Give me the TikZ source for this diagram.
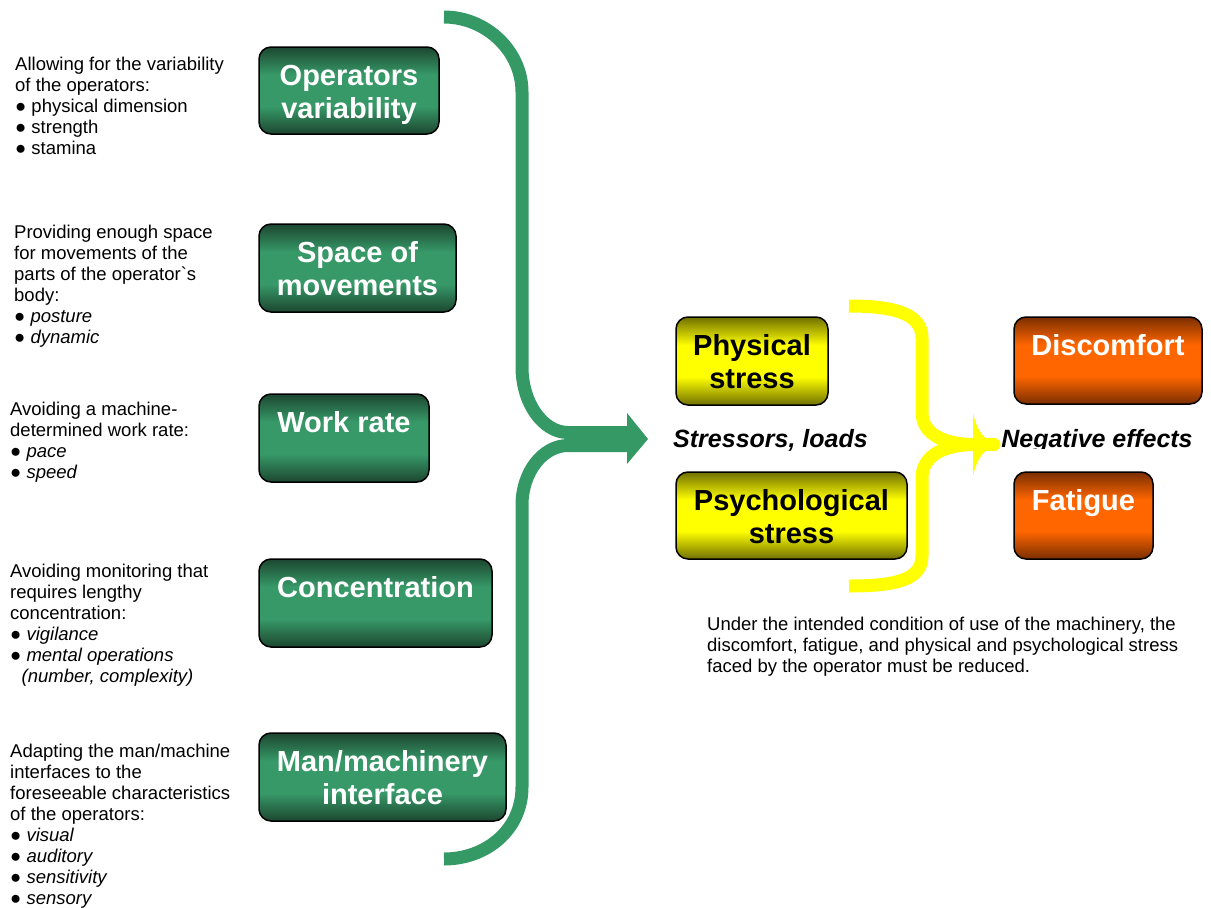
\documentclass[tikz,border=0pt]{standalone}
\usepackage{fontspec}
\setmainfont{Liberation Sans}
\newfontfamily\rawf{Liberation Sans}
\definecolor{gbr}{RGB}{53,153,102}
\definecolor{gl}{RGB}{55,153,104}
\definecolor{gd}{RGB}{28,70,48}
\definecolor{yl}{RGB}{255,255,0}
\definecolor{yd}{RGB}{112,112,0}
\definecolor{ol}{RGB}{255,102,0}
\definecolor{od}{RGB}{122,46,0}
\pgfdeclareverticalshading{gshade}{100bp}{color(0bp)=(gd); color(25bp)=(gd); color(41bp)=(gl); color(59bp)=(gl); color(75bp)=(gd); color(100bp)=(gd)}
\pgfdeclareverticalshading{yshade}{100bp}{color(0bp)=(yd); color(25bp)=(yd); color(41bp)=(yl); color(59bp)=(yl); color(75bp)=(yd); color(100bp)=(yd)}
\pgfdeclareverticalshading{oshade}{100bp}{color(0bp)=(od); color(25bp)=(od); color(41bp)=(ol); color(59bp)=(ol); color(75bp)=(od); color(100bp)=(od)}
\begin{document}
\begin{tikzpicture}[x=1pt,y=-1pt,
  box/.style={draw=black, line width=1.5pt, rounded corners=12pt, inner sep=0pt},
  gbox/.style={box, shading=gshade},
  ybox/.style={box, shading=yshade},
  obox/.style={box, shading=oshade},
  btxt/.style={font=\fontsize{29}{33}\selectfont\bfseries, align=center, inner sep=0pt},
  wtxt/.style={btxt, text=white},
  ktxt/.style={btxt, text=black},
  lt/.style={font=\fontsize{18.5}{21}\selectfont, align=left, inner sep=0pt, anchor=north west},
  bi/.style={font=\fontsize{25}{30}\selectfont\bfseries\itshape, inner sep=0pt, anchor=base},
  gbrk/.style={draw=gbr, line width=13pt},
  ybrk/.style={draw=yl, line width=13pt}
]
\useasboundingbox (0,0) rectangle (1211,908);

% left descriptions
\node[lt] (t1) at (15,56.5) {Allowing for the variability\\of the operators:\\● physical dimension\\● strength\\● stamina};
\node[lt] (t2) at (14,224.5) {Providing enough space\\for movements of the\\parts of the operator{\rawf `}s\\body:\\● \textit{posture}\\● \textit{dynamic}};
\node[lt] (t3) at (10,401.5) {Avoiding a machine-\\determined work rate:\\● \textit{pace}\\● \textit{speed}};
\node[lt] (t4) at (10,563.5) {Avoiding monitoring that\\requires lengthy\\concentration:\\● \textit{vigilance}\\● \textit{mental operations}\\\hspace*{11.5pt}\textit{(number, complexity)}};
\node[lt] (t5) at (10,743.5) {Adapting the man/machine\\interfaces to the\\foreseeable characteristics\\of the operators:\\● \textit{visual}\\● \textit{auditory}\\● \textit{sensitivity}\\● \textit{sensory}};

% green boxes
\node[gbox, minimum width=180pt, minimum height=87pt] (b1) at (349,90.5) {};
\node[wtxt, below=16pt] (b1t) at (b1.north) {\strut Operators\\\strut variability};
\node[gbox, minimum width=197pt, minimum height=88pt] (b2) at (357.5,268) {};
\node[wtxt, below=16pt] (b2t) at (b2.north) {\strut Space of\\\strut movements};
\node[gbox, minimum width=170pt, minimum height=88pt] (b3) at (344,438) {};
\node[wtxt, below=16pt] (b3t) at (b3.north) {\strut Work rate};
\node[gbox, minimum width=233pt, minimum height=88pt] (b4) at (375.5,603) {};
\node[wtxt, below=16pt] (b4t) at (b4.north) {\strut Concentration};
\node[gbox, minimum width=247pt, minimum height=88pt] (b5) at (382.5,777) {};
\node[wtxt, below=16pt] (b5t) at (b5.north) {\strut Man/machinery\\\strut interface};

% green bracket with arrow
\draw[gbrk] (444,17) .. controls (486,17) and (522,51) .. (522,92) -- (522,367) .. controls (522,403) and (543,432.5) .. (568,432.5) -- (630,432.5);
\draw[gbrk] (630,445.5) -- (568,445.5) .. controls (543,445.5) and (522,472) .. (522,505) -- (522,787) .. controls (522,830) and (486,859) .. (444,859);
\fill[gbr] (627,413) -- (648,439) -- (627,464) -- cycle;

% yellow boxes
\node[ybox, minimum width=152pt, minimum height=88pt] (y1) at (752,361) {};
\node[ktxt, below=16pt] (y1t) at (y1.north) {\strut Physical\\\strut stress};
\node[ybox, minimum width=231pt, minimum height=87pt] (y2) at (791.5,515.5) {};
\node[ktxt, below=16pt] (y2t) at (y2.north) {\strut Psychological\\\strut stress};

\node[bi] (sl) at (770.5,447) {Stressors, loads};

% yellow bracket with arrow
\draw[ybrk] (849,306) .. controls (895,306) and (922,314) .. (922,338) -- (922,412) .. controls (922,435) and (945,444.5) .. (975,444.5);
\draw[ybrk] (975,444.5) .. controls (945,444.5) and (922,455) .. (922,478) -- (922,556) .. controls (922,580) and (895,586) .. (849,586);
\draw[ybrk, line cap=round] (970,444.5) -- (994,444.5);
\fill[yl] (973,413) .. controls (977,432) and (986,442) .. (998,444.5) .. controls (986,447) and (977,457) .. (973,476) -- cycle;

% orange boxes
\node[obox, minimum width=188pt, minimum height=87pt] (o1) at (1108,360.5) {};
\node[wtxt, below=16pt] (o1t) at (o1.north) {\strut Discomfort};
\node[obox, minimum width=139pt, minimum height=87pt] (o2) at (1083.5,515.5) {};
\node[wtxt, below=16pt] (o2t) at (o2.north) {\strut Fatigue};

\begin{scope}
\clip (990,400) rectangle (1211,448);
\node[bi] (ne) at (1097,447) {Negative effects};
\end{scope}

\node[lt] (note) at (707,616.5) {Under the intended condition of use of the machinery, the\\discomfort, fatigue, and physical and psychological stress\\faced by the operator must be reduced.};
\end{tikzpicture}
\end{document}
